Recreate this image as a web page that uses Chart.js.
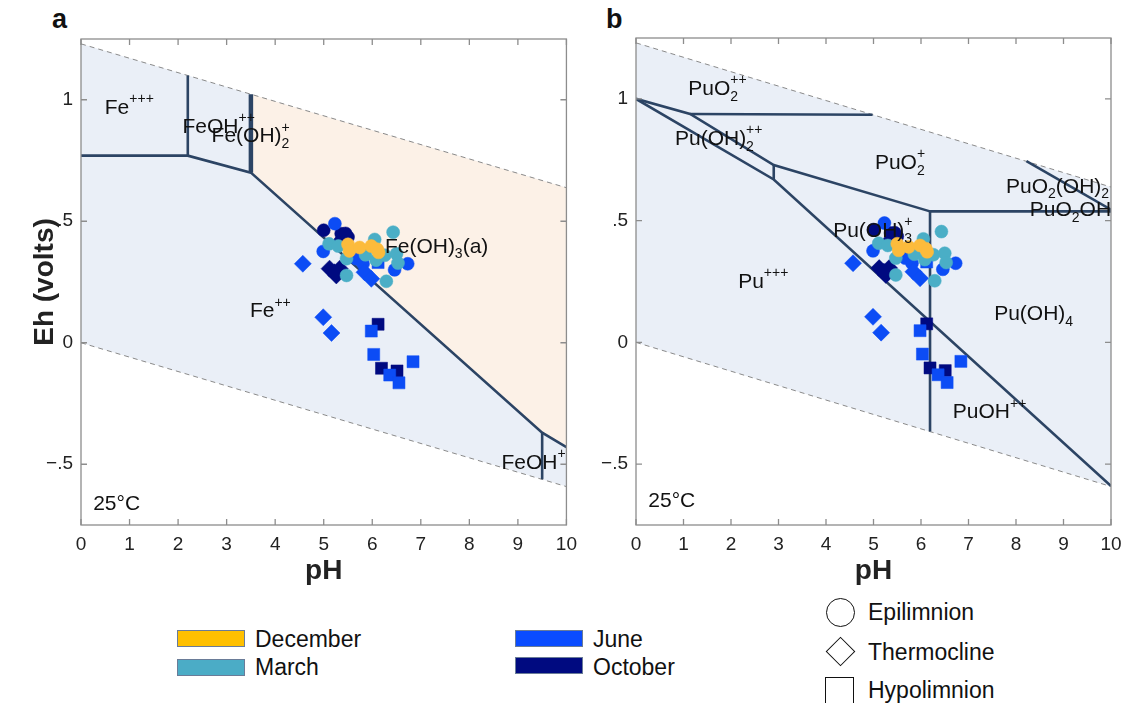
<!DOCTYPE html>
<html>
<head>
<meta charset="utf-8">
<script src="https://cdn.jsdelivr.net/npm/chart.js@4.4.1/dist/chart.umd.min.js"></script>
<style>
  body { margin: 0; background: #fff; width: 1136px; height: 703px; overflow: hidden; position: relative;
         font-family: "Liberation Sans", Arial, sans-serif; color: #111; }
  .panel { position: absolute; top: 0; }
  .tag { position: absolute; top: 4px; font-weight: bold; font-size: 27px; line-height: 30px; }
  .sw { position: absolute; width: 68px; height: 17px; box-sizing: border-box; border: 1.5px solid #6a7c98; }
  .lt { position: absolute; font-size: 23px; line-height: 24px; }
  .shape { position: absolute; box-sizing: border-box; border: 1.7px solid #111; }
</style>
</head>
<body>
<div class="tag" style="left:52px">a</div>
<div class="tag" style="left:606px">b</div>
<div class="panel" style="left:0"><canvas id="chartA" width="585" height="595"></canvas></div>
<div class="panel" style="left:590px"><canvas id="chartB" width="546" height="595"></canvas></div>

<!-- month legend -->
<div class="sw" style="left:177px;top:630px;background:#ffc000"></div>
<div class="lt" style="left:255px;top:627px">December</div>
<div class="sw" style="left:177px;top:659px;background:#4bacc6"></div>
<div class="lt" style="left:255px;top:655px">March</div>
<div class="sw" style="left:515px;top:630px;background:#0a4cff"></div>
<div class="lt" style="left:593px;top:627px">June</div>
<div class="sw" style="left:515px;top:657px;background:#000a80"></div>
<div class="lt" style="left:593px;top:655px">October</div>

<!-- depth legend -->
<div class="shape" style="left:826px;top:598px;width:29px;height:29px;border-radius:50%"></div>
<div class="lt" style="left:868px;top:600px">Epilimnion</div>
<div class="shape" style="left:830px;top:641px;width:21px;height:21px;transform:rotate(45deg)"></div>
<div class="lt" style="left:868px;top:640px">Thermocline</div>
<div class="shape" style="left:825px;top:677px;width:29px;height:40px"></div>
<div class="lt" style="left:868px;top:678px">Hypolimnion</div>

<script>
const FONT = '"Liberation Sans", Arial, sans-serif';
const LINE = '#2c4464';
const WATER_FILL = '#eaeff7';
const OXIDE_FILL = '#fcf1e7';

// axes
const phTicks = [0, 1, 2, 3, 4, 5, 6, 7, 8, 9, 10];
const ehTicks = [-0.5, 0, 0.5, 1];
const ehTickLabels = ['\u2212.5', '0', '.5', '1'];

// water stability limits (pH, Eh)
const waterUpper = [[0, 1.23], [10, 0.638]];
const waterLower = [[0, 0], [10, -0.592]];

// Fe diagram boundaries
const feMain = [[0, 0.77], [2.2, 0.77], [3.5, 0.70], [9.5, -0.37], [10, -0.43]];
const feV1 = [[2.2, 0.77], [2.2, 1.10]];
const feV2 = [[3.5, 0.70], [3.5, 1.023]];
const feV3 = [[9.5, -0.37], [9.5, -0.562]];
const feOxTop = [[3.5, 1.023], [10, 0.638]];
const feOxBottom = [[3.5, 0.70], [9.5, -0.37], [10, -0.43]];

// Pu diagram boundaries
const puUpper = [[0, 1.0], [1.14, 0.938], [2.9, 0.728], [6.19, 0.538]];
const puLower = [[0, 1.0], [2.9, 0.669], [10, -0.59]];
const puH1 = [[1.14, 0.938], [4.98, 0.935]];
const puV1 = [[2.9, 0.728], [2.9, 0.669]];
const puV2 = [[6.19, 0.538], [6.19, -0.366]];
const puH2 = [[6.19, 0.538], [10, 0.538]];
const puD = [[8.22, 0.744], [10, 0.545]];

// samples (pH, Eh)
const decEpi = [[5.50, 0.405], [5.53, 0.378], [5.74, 0.392], [5.98, 0.398], [6.10, 0.385], [6.13, 0.372]];
const marEpi = [[5.11, 0.407], [5.30, 0.398], [5.47, 0.346], [5.47, 0.277], [5.86, 0.362], [6.05, 0.425],
                [6.08, 0.34], [6.26, 0.36], [6.43, 0.455], [6.50, 0.366], [6.53, 0.328], [6.29, 0.253]];
const junEpi = [[5.23, 0.49], [4.99, 0.376], [5.67, 0.346], [5.81, 0.325], [6.46, 0.30], [6.73, 0.325]];
const octEpi = [[5.0, 0.463], [5.36, 0.449], [5.50, 0.435], [5.33, 0.414], [5.45, 0.45]];
const junThermo = [[4.57, 0.325], [5.84, 0.29], [5.98, 0.263], [4.99, 0.105], [5.16, 0.04]];
const octThermo = [[5.12, 0.305], [5.26, 0.277], [5.33, 0.305], [5.22, 0.29]];
const junHypo = [[6.12, 0.33], [5.98, 0.048], [6.03, -0.048], [6.36, -0.133], [6.55, -0.165], [6.84, -0.078]];
const octHypo = [[6.12, 0.076], [6.19, -0.105], [6.51, -0.116]];

// field labels: text, pH, Eh
const feLabels = [
  ['Fe^{+++}', 0.49, 0.966], ['FeOH^{++}', 2.09, 0.888], ['Fe(OH)_{2}^{+}', 2.69, 0.848],
  ['Fe(OH)_{3}(a)', 6.26, 0.395], ['Fe^{++}', 3.48, 0.128], ['FeOH^{+}', 8.66, -0.496], ['25°C', 0.25, -0.664]
];
const puLabels = [
  ['PuO_{2}^{++}', 1.10, 1.04], ['Pu(OH)_{2}^{++}', 0.82, 0.834], ['PuO_{2}^{+}', 5.03, 0.735],
  ['PuO_{2}(OH)_{2}', 7.79, 0.639], ['PuO_{2}OH', 8.29, 0.543], ['Pu(OH)_{3}^{+}', 4.15, 0.456],
  ['Pu^{+++}', 2.15, 0.247], ['Pu(OH)_{4}', 7.54, 0.114], ['PuOH^{++}', 6.67, -0.288], ['25°C', 0.26, -0.654]
];

const toXY = pts => pts.map(([x, y]) => ({ x, y }));

function lineDs(pts, extra) {
  return Object.assign({
    data: toXY(pts), showLine: true, pointRadius: 0, borderColor: LINE,
    borderWidth: 2.6, fill: false, order: 10
  }, extra);
}

function pointDs(pts, color, style, radius, order) {
  return {
    data: toXY(pts), showLine: false, pointStyle: style, pointRadius: radius,
    backgroundColor: color, borderColor: color, borderWidth: 0.5, order: order
  };
}

function sampleSets() {
  return [
    pointDs(octHypo, '#000a80', 'rect', 8.5, 4),
    pointDs(junHypo, '#0c4cf5', 'rect', 8.5, 3),
    pointDs(octThermo, '#000a80', 'rectRot', 8.5, 4),
    pointDs(junThermo, '#0c4cf5', 'rectRot', 8.5, 3),
    pointDs(octEpi, '#000a80', 'circle', 6.5, 4),
    pointDs(junEpi, '#0c4cf5', 'circle', 6.5, 3),
    pointDs(marEpi, '#4aaec6', 'circle', 6.5, 2),
    pointDs(decEpi, '#fcbb3c', 'circle', 6.5, 1)
  ];
}

function waterSets() {
  return [
    lineDs(waterUpper, { borderWidth: 0, fill: 1, backgroundColor: WATER_FILL, order: 20 }),
    lineDs(waterLower, { borderWidth: 0, order: 20 })
  ];
}

function dashedSets() {
  return [
    lineDs(waterUpper, { borderColor: '#8a8a8a', borderWidth: 1, borderDash: [5, 4], order: 15 }),
    lineDs(waterLower, { borderColor: '#8a8a8a', borderWidth: 1, borderDash: [5, 4], order: 15 })
  ];
}

function drawChem(ctx, text, x, y, size) {
  const re = /([_^])\{([^}]*)\}|([^_^]+)/g;
  const small = Math.round(size * 0.66);
  let m, cx = x, lastSub = null;
  while ((m = re.exec(text))) {
    if (m[3]) {
      ctx.font = size + 'px ' + FONT;
      ctx.fillText(m[3], cx, y);
      cx += ctx.measureText(m[3]).width;
      lastSub = null;
    } else {
      ctx.font = small + 'px ' + FONT;
      const w = ctx.measureText(m[2]).width;
      if (m[1] === '_') {
        ctx.fillText(m[2], cx, y + size * 0.36);
        lastSub = { x: cx };
        cx += w;
      } else {
        const sx = lastSub ? lastSub.x : cx;
        ctx.fillText(m[2], sx, y - size * 0.42);
        cx = Math.max(cx, sx + w);
        lastSub = null;
      }
    }
  }
}

const chemLabels = {
  id: 'chemLabels',
  afterDatasetsDraw(chart, args, opts) {
    const { ctx, scales: { x, y } } = chart;
    ctx.save();
    ctx.fillStyle = '#111';
    ctx.textBaseline = 'middle';
    ctx.textAlign = 'left';
    opts.items.forEach(([t, ph, eh]) => {
      drawChem(ctx, t, x.getPixelForValue(ph), y.getPixelForValue(eh), 21);
    });
    ctx.restore();
  }
};

const frameTicks = {
  id: 'frameTicks',
  afterDatasetsDraw(chart) {
    const { ctx, chartArea: a, scales: { x, y } } = chart;
    ctx.save();
    ctx.strokeStyle = '#8d8d8d';
    ctx.lineWidth = 1.3;
    ctx.strokeRect(a.left, a.top, a.right - a.left, a.bottom - a.top);
    ctx.beginPath();
    x.ticks.forEach(t => {
      const px = x.getPixelForValue(t.value);
      ctx.moveTo(px, a.bottom); ctx.lineTo(px, a.bottom - 6);
      ctx.moveTo(px, a.top); ctx.lineTo(px, a.top + 6);
    });
    y.ticks.forEach(t => {
      const py = y.getPixelForValue(t.value);
      ctx.moveTo(a.left, py); ctx.lineTo(a.left + 6, py);
      ctx.moveTo(a.right, py); ctx.lineTo(a.right - 6, py);
    });
    ctx.stroke();
    ctx.restore();
  }
};

function makeChart(id, datasets, labels, pad, yWidth, showTitle) {
  return new Chart(document.getElementById(id), {
    type: 'scatter',
    data: { datasets: datasets },
    options: {
      responsive: false,
      animation: false,
      events: [],
      layout: { padding: pad },
      plugins: { legend: { display: false }, tooltip: { enabled: false }, chemLabels: { items: labels } },
      scales: {
        x: {
          type: 'linear', min: 0, max: 10,
          afterBuildTicks: s => { s.ticks = phTicks.map(v => ({ value: v })); },
          afterFit: s => { s.height = 70; },
          grid: { display: false, drawTicks: false },
          border: { display: false },
          ticks: { font: { size: 19, family: FONT }, color: '#222', padding: 8 },
          title: { display: true, text: 'pH', color: '#222', font: { size: 28, weight: 'bold', family: FONT }, padding: { top: 0, bottom: 7 } }
        },
        y: {
          type: 'linear', min: -0.75, max: 1.25,
          afterBuildTicks: s => { s.ticks = ehTicks.map(v => ({ value: v })); },
          afterFit: s => { s.width = yWidth; },
          grid: { display: false, drawTicks: false },
          border: { display: false },
          ticks: {
            font: { size: 19, family: FONT }, color: '#222', padding: 8,
            callback: v => ehTickLabels[ehTicks.indexOf(v)]
          },
          title: { display: showTitle, text: 'Eh (volts)', color: '#222', font: { size: 28, weight: 'bold', family: FONT }, padding: { top: 28, bottom: 0 } }
        }
      }
    },
    plugins: [frameTicks, chemLabels]
  });
}

// panel a: Fe
const feSets = waterSets().concat([
  lineDs(feOxTop, { borderWidth: 0, fill: 3, backgroundColor: OXIDE_FILL, order: 19 }),
  lineDs(feOxBottom, { borderWidth: 0, order: 19 })
], dashedSets(), [
  lineDs(feMain), lineDs(feV1), lineDs(feV2, { borderWidth: 4.5 }), lineDs(feV3)
], sampleSets());
makeChart('chartA', feSets, feLabels, { left: 0, top: 39, right: 18, bottom: 0 }, 81, true);

// panel b: Pu
const puSets = waterSets().concat(dashedSets(), [
  lineDs(puUpper), lineDs(puLower), lineDs(puH1), lineDs(puV1), lineDs(puV2), lineDs(puH2), lineDs(puD)
], sampleSets());
makeChart('chartB', puSets, puLabels, { left: 0, top: 38, right: 25, bottom: 0 }, 46, false);
</script>
</body>
</html>
